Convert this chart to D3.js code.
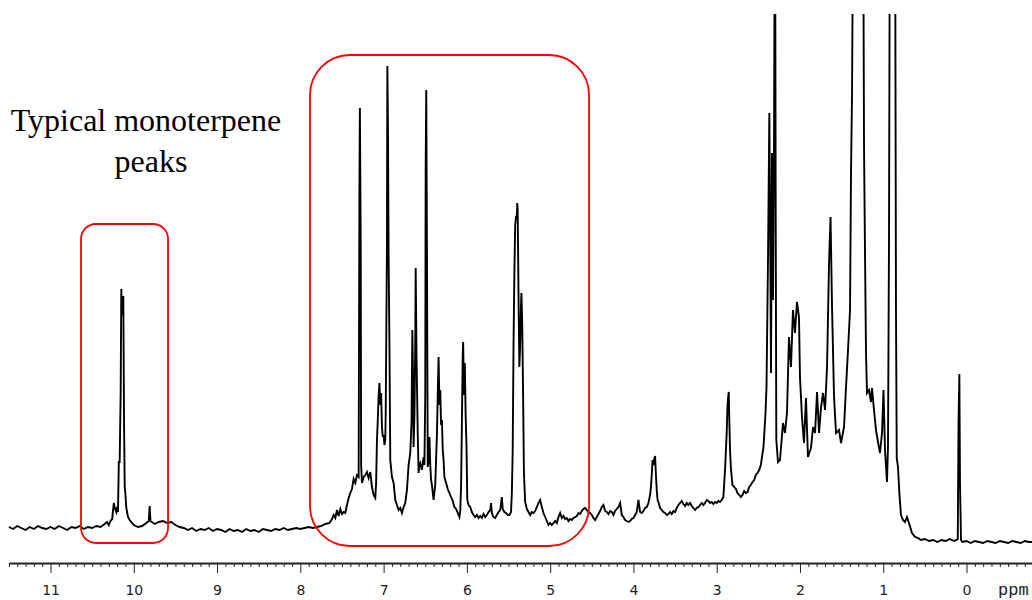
<!DOCTYPE html>
<html><head><meta charset="utf-8">
<script src="https://cdn.jsdelivr.net/npm/d3@7"></script>
<style>html,body{margin:0;padding:0;background:#fff;} svg{display:block;}</style>
</head><body>
<svg id="chart" width="1032" height="600"></svg>
<script>
// 1H NMR spectrum: [chemical shift (ppm), intensity (a.u.)]
const spectrum = [
[11.50,18],[11.45,16],[11.40,19],[11.35,17],[11.30,15],[11.25,18],[11.20,16],[11.15,19],[11.10,17],[11.05,16],
[11.00,18],[10.95,16],[10.90,19],[10.85,17],[10.80,15],[10.75,18],[10.70,17],[10.65,19],[10.60,16],[10.55,18],
[10.50,17],[10.45,19],[10.40,18],[10.35,21],[10.32,23],[10.30,20],[10.28,24],[10.26,26],[10.24,42],[10.225,36],
[10.21,33],[10.20,38],[10.19,33],[10.18,83],[10.17,83],[10.158,150],[10.15,256],[10.142,230],[10.134,235],[10.126,249],
[10.117,120],[10.109,58],[10.10,50],[10.09,37],[10.07,28],[10.05,25],[10.00,20],[9.95,18],[9.90,19],[9.85,22],
[9.82,24],[9.81,39],[9.80,24],[9.75,21],[9.70,23],[9.65,24],[9.60,22],[9.55,23],[9.50,20],[9.45,18],[9.40,17],
[9.35,15],[9.30,17],[9.25,14],[9.20,16],[9.15,15],[9.10,17],[9.05,14],[9.00,16],[8.95,15],[8.90,13],[8.85,16],
[8.80,14],[8.75,15],[8.70,13],[8.65,16],[8.60,14],[8.55,15],[8.50,13],[8.45,16],[8.40,15],[8.35,14],[8.30,16],
[8.25,15],[8.20,17],[8.15,15],[8.10,16],[8.05,17],[8.00,16],
[7.95,17],[7.90,18],[7.85,17],[7.80,18],[7.75,19],[7.70,21],[7.65,22],[7.62,26],[7.60,30],[7.58,27],[7.56,35],
[7.54,29],[7.52,36],[7.50,31],[7.48,33],[7.46,32],[7.44,40],[7.42,47],[7.40,52],[7.38,56],[7.36,66],[7.34,62],
[7.32,70],[7.30,68],[7.29,365],[7.285,437],[7.275,300],[7.27,80],[7.26,62],[7.24,68],[7.22,70],[7.20,73],[7.18,67],
[7.16,73],[7.14,58],[7.12,50],[7.10,47],[7.09,62],[7.08,105],[7.07,125],[7.06,150],[7.05,162],[7.04,140],[7.03,152],
[7.02,118],[7.01,108],[7.00,110],[6.99,100],[6.98,105],[6.975,130],[6.96,300],[6.955,479],[6.948,420],[6.94,289],
[6.93,200],[6.92,85],[6.90,68],[6.88,62],[6.86,45],[6.84,40],[6.82,35],[6.80,37],[6.78,32],[6.76,38],[6.74,42],
[6.72,55],[6.70,80],[6.68,92],[6.665,122],[6.655,215],[6.645,160],[6.64,98],[6.63,130],[6.62,200],[6.615,277],
[6.605,190],[6.59,110],[6.58,72],[6.57,80],[6.56,82],[6.54,75],[6.52,88],[6.51,80],[6.50,150],[6.495,376],[6.488,455],
[6.48,300],[6.47,78],[6.46,85],[6.45,108],[6.44,80],[6.43,65],[6.42,60],[6.40,45],[6.38,60],[6.37,85],[6.36,110],
[6.35,150],[6.34,188],[6.33,140],[6.32,155],[6.31,120],[6.30,125],[6.29,95],[6.28,85],[6.27,68],[6.25,62],[6.23,56],
[6.21,52],[6.19,48],[6.17,44],[6.15,38],[6.13,36],[6.11,32],[6.09,28],[6.08,34],[6.07,58],[6.06,120],[6.05,190],
[6.045,203],[6.035,150],[6.025,182],[6.015,130],[6.005,100],[5.995,45],[5.98,40],[5.96,38],[5.94,33],[5.92,30],
[5.90,28],[5.88,30],[5.86,27],[5.84,29],[5.82,27],[5.80,31],[5.78,28],[5.76,30],[5.74,33],[5.72,35],[5.71,42],
[5.70,32],[5.68,28],[5.66,27],[5.64,30],[5.62,33],[5.60,35],[5.58,48],[5.57,36],[5.55,33],[5.53,32],[5.51,30],
[5.49,30],[5.47,33],[5.46,52],[5.45,93],[5.44,200],[5.43,270],[5.42,320],[5.41,328],[5.40,330],[5.395,342],[5.39,335],
[5.38,250],[5.37,178],[5.36,200],[5.35,240],[5.345,252],[5.335,220],[5.325,150],[5.315,72],[5.30,43],[5.28,36],
[5.26,33],[5.24,30],[5.22,33],[5.20,32],[5.18,34],[5.16,38],[5.14,42],[5.12,45],[5.10,38],[5.08,32],[5.06,28],
[5.04,24],[5.02,20],[5.00,22],[4.98,20],[4.96,22],[4.94,24],[4.92,22],[4.90,28],[4.88,32],[4.86,27],[4.84,29],
[4.82,26],[4.80,27],[4.78,24],[4.76,26],[4.74,25],[4.72,27],[4.70,28],[4.68,29],[4.66,32],[4.64,31],[4.62,34],
[4.60,36],[4.58,37],[4.56,35],[4.54,33],[4.52,32],[4.50,30],[4.48,27],[4.46,25],[4.44,28],[4.42,31],[4.40,34],
[4.38,38],[4.36,40],[4.34,34],[4.32,33],[4.30,31],[4.28,34],[4.26,33],[4.24,30],[4.22,34],[4.20,36],[4.18,38],
[4.16,42],[4.14,30],[4.12,28],[4.10,25],[4.08,24],[4.06,23],[4.04,24],[4.02,26],[4.00,27],[3.98,30],[3.96,33],
[3.94,45],[3.92,33],[3.90,32],[3.88,34],[3.86,37],[3.84,38],[3.82,42],[3.80,50],[3.79,58],[3.78,70],[3.77,85],
[3.76,80],[3.75,86],[3.74,89],[3.73,70],[3.72,55],[3.71,45],[3.70,43],[3.68,37],[3.66,35],[3.64,33],[3.62,32],
[3.60,30],[3.58,31],[3.56,33],[3.54,31],[3.52,34],[3.50,33],[3.48,37],[3.46,40],[3.44,42],[3.42,44],[3.40,41],
[3.38,39],[3.36,42],[3.34,40],[3.32,42],[3.30,39],[3.28,37],[3.26,35],[3.24,37],[3.22,38],[3.20,40],[3.18,42],
[3.16,40],[3.14,42],[3.12,45],[3.10,44],[3.08,42],[3.06,43],[3.04,41],[3.02,43],[3.00,42],[2.98,44],[2.96,43],
[2.94,45],[2.92,48],[2.90,75],[2.88,112],[2.87,140],[2.86,150],[2.855,153],[2.85,130],[2.84,95],[2.83,78],[2.82,68],
[2.81,60],[2.79,58],[2.77,56],[2.75,52],[2.73,50],[2.71,48],[2.69,50],[2.67,54],[2.65,52],[2.63,53],[2.61,58],
[2.59,60],[2.57,63],[2.55,65],[2.53,70],[2.51,72],[2.49,75],[2.47,80],[2.438,98],[2.414,132],[2.402,158],[2.384,285],
[2.368,432],[2.357,300],[2.348,172],[2.336,392],[2.324,245],[2.312,392],[2.300,700],[2.291,312],[2.284,105],[2.264,83],
[2.240,85],[2.204,122],[2.180,112],[2.156,132],[2.132,208],[2.108,178],[2.084,235],[2.060,212],[2.036,243],[2.012,228],
[2.000,168],[1.976,128],[1.952,102],[1.928,147],[1.904,88],[1.868,97],[1.843,118],[1.819,112],[1.795,153],[1.771,112],
[1.747,138],[1.723,152],[1.699,135],[1.675,178],[1.651,282],[1.633,328],[1.615,238],[1.591,148],[1.567,112],[1.531,115],
[1.507,102],[1.471,118],[1.447,158],[1.423,195],[1.399,235],[1.387,373],[1.375,450],[1.357,700],[1.303,900],[1.243,700],
[1.231,400],[1.219,292],[1.207,192],[1.195,152],[1.171,155],[1.147,143],[1.135,157],[1.111,135],[1.087,115],[1.063,103],
[1.039,92],[1.015,112],[0.997,155],[0.979,95],[0.955,63],[0.943,98],[0.931,302],[0.919,700],[0.889,650],[0.859,700],
[0.847,235],[0.838,87],[0.823,78],[0.805,50],[0.787,30],[0.763,25],[0.739,23],[0.715,28],[0.691,22],[0.655,12],
[0.618,8],[0.58,7],[0.55,5],[0.50,6],[0.45,4],[0.40,5],[0.35,3],[0.30,5],[0.25,4],[0.20,6],[0.15,4],[0.12,5],
[0.105,6],[0.096,121],[0.086,171],[0.078,60],[0.066,5],[0.05,3],[0.00,4],[-0.05,2],[-0.10,4],[-0.15,3],[-0.20,2],
[-0.25,4],[-0.30,3],[-0.35,2],[-0.40,4],[-0.45,3],[-0.50,2],[-0.55,4],[-0.60,3],[-0.65,2],[-0.70,4],[-0.75,3],[-0.79,3]
];
const majorTicks = [11,10,9,8,7,6,5,4,3,2,1,0];
const axisUnit = "ppm";
const annotationLines = ["Typical monoterpene", "peaks"];
// highlighted regions in data space: ppm range and intensity range
const regionFrom = [10.634, 7.884];
const regionTo = [9.589, 4.533];
const regionLow = [2, -1];
const regionHigh = [321, 490];
const ppmExtent = [11.5, -0.79];
const intensityExtent = [0, 531];

const svg = d3.select("#chart");
const x = d3.scaleLinear().domain(ppmExtent).range([8.9, 1032.3]);
const y = d3.scaleLinear().domain(intensityExtent).range([545, 14]);

svg.append("defs").append("clipPath").attr("id","plotClip")
  .append("rect").attr("x",0).attr("y",14).attr("width",1032).attr("height",540);

const line = d3.line().x(d => x(d[0])).y(d => y(d[1]));
svg.append("path").datum(spectrum)
  .attr("clip-path","url(#plotClip)")
  .attr("d", line)
  .attr("fill","none").attr("stroke","#000").attr("stroke-width",1.9)
  .attr("stroke-linejoin","miter");

// red highlight boxes
const radii = [15, 40];
regionFrom.forEach((f, i) => {
  const x0 = x(f), x1 = x(regionTo[i]);
  const y0 = y(regionHigh[i]), y1 = y(regionLow[i]);
  svg.append("rect").attr("x", x0).attr("y", y0)
    .attr("width", x1 - x0).attr("height", y1 - y0)
    .attr("rx", radii[i]).attr("ry", radii[i])
    .attr("fill","none").attr("stroke","#ff0000").attr("stroke-width",1.8);
});

// annotation text
const ann = svg.append("text").attr("font-family","'Liberation Serif','Times New Roman',serif")
  .attr("font-size",32).attr("fill","#000").attr("text-anchor","middle");
ann.append("tspan").attr("x",146).attr("y",131).text(annotationLines[0]);
ann.append("tspan").attr("x",151).attr("y",172).text(annotationLines[1]);

// axis
const axisY = 563;
const gAxis = svg.append("g").attr("transform", `translate(0,${axisY})`);
const minorTicks = d3.range(-7, 116).map(d => d / 10).filter(d => Math.abs(d - Math.round(d)) > 1e-6);
const gMinor = gAxis.append("g").call(d3.axisBottom(x).tickValues(minorTicks).tickSize(4).tickSizeOuter(0).tickFormat(""));
const gMajor = gAxis.append("g").call(d3.axisBottom(x).tickValues(majorTicks).tickSize(10).tickSizeOuter(0).tickFormat(d3.format("d")));
gAxis.selectAll(".domain").attr("stroke","#222").attr("stroke-width",1.8);
gAxis.selectAll(".tick line").attr("stroke","#222").attr("stroke-width",1);
gMinor.select(".domain").remove();
gMajor.selectAll(".tick text")
  .attr("y", 32).attr("dy", null)
  .attr("font-family","'DejaVu Sans',Verdana,sans-serif").attr("font-size",14).attr("fill","#222");
svg.append("text").attr("x", 998).attr("y", 595)
  .attr("font-family","'Liberation Mono','Courier New',monospace").attr("font-size",17)
  .attr("fill","#222").text(axisUnit);
</script>
</body></html>
